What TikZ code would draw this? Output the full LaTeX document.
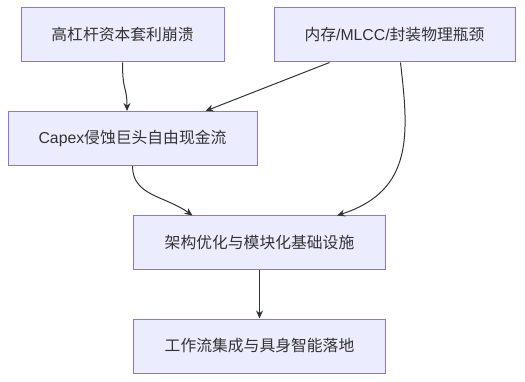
\documentclass[tikz,border=0pt]{standalone}
\usepackage{fontspec}
\setmainfont{Liberation Sans}
\newfontfamily\cjk{Noto Sans CJK SC}
\usetikzlibrary{arrows.meta,calc}
\definecolor{boxfill}{HTML}{ECECFF}
\definecolor{boxline}{HTML}{9370DB}
\definecolor{edgecol}{HTML}{333333}
\definecolor{txtcol}{HTML}{333333}
\begin{document}
\begin{tikzpicture}[x=1pt,y=-1pt,
  box/.style={draw=boxline,fill=boxfill,line width=1pt,inner sep=0pt,
    minimum height=54pt,text=txtcol,font=\fontsize{15.8}{19}\selectfont},
  edge/.style={draw=edgecol,line width=1pt,-{Stealth[length=8pt,width=7pt]}}]
\useasboundingbox (0,0) rectangle (525,382);
\node[box,minimum width=203pt] (a) at (122.5,35) {\cjk 高杠杆资本套利崩溃};
\node[box,minimum width=241pt] (b) at (394.5,35) {{\cjk 内存}/MLCC/{\cjk 封装物理瓶颈}};
\node[box,minimum width=249pt] (c) at (132.5,138.5) {Capex{\cjk 侵蚀巨头自由现金流}};
\node[box,minimum width=252pt] (d) at (259.5,243) {\cjk 架构优化与模块化基础设施};
\node[box,minimum width=252pt] (e) at (259.5,346) {\cjk 工作流集成与具身智能落地};
\draw[edge] (a.south) .. controls ($(a.south)+(0,30)$) and ($(c.north)+(-5.5,-25)$) .. ($(c.north)+(-5.5,0)$);
\draw[edge] ($(b.south)+(-65,0)$) -- ($(c.north)+(73,0)$);
\draw[edge] ($(b.south)+(6,0)$) .. controls ($(b.south)+(14,70)$) and ($(d.north)+(155,-25)$) .. ($(d.north)+(77.5,0)$);
\draw[edge] (c.south) .. controls ($(c.south)+(0,30)$) and ($(d.north)+(-95,-20)$) .. ($(d.north)+(-67,0)$);
\draw[edge] (d.south) -- (e.north);
\end{tikzpicture}
\end{document}
